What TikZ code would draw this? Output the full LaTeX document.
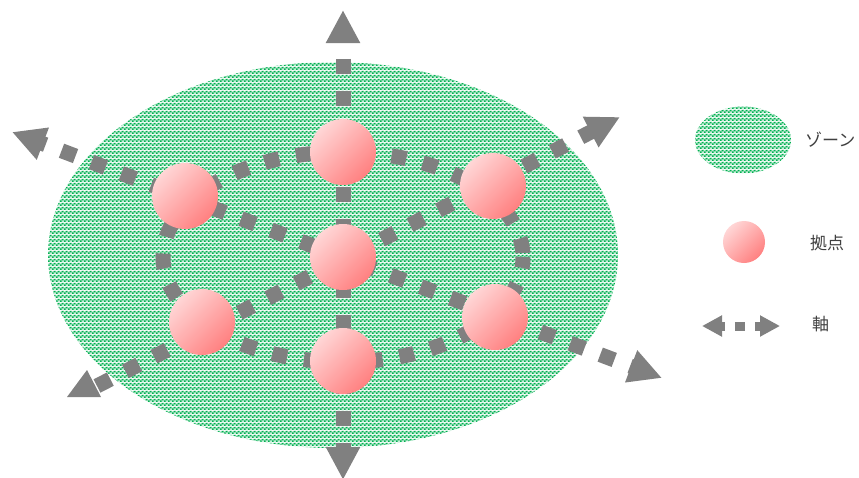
\documentclass[tikz,border=0pt]{standalone}
\usepackage{fontspec}
\newfontfamily\jpfont{Noto Sans CJK JP}
\usetikzlibrary{arrows.meta,patterns.meta}

\definecolor{axisgray}{RGB}{128,128,128}
\definecolor{zonegreen}{RGB}{0,176,80}
\definecolor{hublight}{RGB}{255,214,214}
\definecolor{hubdark}{RGB}{255,128,128}
\definecolor{labelgray}{RGB}{64,64,64}

% fine green checkerboard used for the zone
\tikzdeclarepattern{
  name=zonecheck, type=colored,
  bottom left={(0pt,0pt)}, top right={(4pt,4pt)}, tile size={(4pt,4pt)},
  code={\fill[zonegreen!22] (0pt,0pt) rectangle (4pt,4pt);
        \fill[zonegreen] (0pt,0pt) rectangle (2pt,2pt);
        \fill[zonegreen] (2pt,2pt) rectangle (4pt,4pt);}
}

\tikzset{
  zone/.style={pattern=zonecheck},
  hub/.style={circle, inner sep=0pt, minimum size=#1, draw=none,
              top color=hublight, bottom color=hubdark, shading angle=45},
  hub/.default=66pt,
  axisline/.style={draw=axisgray, line width=15pt, dash pattern=on 15pt off 17pt},
  bighead/.tip={Triangle[length=33pt, width=32pt]},
  smallhead/.tip={Triangle[length=20pt, width=20pt]},
  legendtext/.style={font=\jpfont\fontsize{17}{20}\selectfont, text=labelgray, inner sep=0pt}
}

\begin{document}
\begin{tikzpicture}[x=1pt, y=-1pt]
  \useasboundingbox (0,0) rectangle (859,477);

  % zone
  \fill[zone] (333,255) ellipse [x radius=285, y radius=193];

  % hub positions
  \coordinate (pC)  at (343,257);
  \coordinate (pT)  at (343,152);
  \coordinate (pB)  at (343,361);
  \coordinate (pUL) at (185,196);
  \coordinate (pUR) at (493,186);
  \coordinate (pLL) at (202,322);
  \coordinate (pLR) at (495,317);

  % free ends of the axes
  \coordinate (axN)  at (343,10);
  \coordinate (axS)  at (343,480);
  \coordinate (axNW) at (12,132);
  \coordinate (axSE) at (662,378);
  \coordinate (axSW) at (97,386);
  \coordinate (axNE) at (620,117);

  % ring of axes linking the outer hubs
  \draw[axisline, dash phase=4pt] (pC) ellipse [x radius=180, y radius=105];

  % straight axes through the centre hub
  \draw[axisline, dash phase=14pt, bighead-bighead] (axN) -- (axS);
  \draw[axisline, dash phase=10pt, bighead-bighead] (axNW) -- (axSE);
  \draw[axisline, dash phase=0pt, -bighead] (axSW) -- (axNE);
  \fill[axisgray] (87,370) -- (101,397) -- (67,397) -- cycle;

  % hubs
  \node[hub] (hC)  at (pC)  {};
  \node[hub] (hT)  at (pT)  {};
  \node[hub] (hB)  at (pB)  {};
  \node[hub] (hUL) at (pUL) {};
  \node[hub] (hUR) at (pUR) {};
  \node[hub] (hLL) at (pLL) {};
  \node[hub] (hLR) at (pLR) {};

  % legend
  \fill[zone] (743,140) ellipse [x radius=48, y radius=33.5];
  \node[legendtext, anchor=west] (tZone) at (805,140) {ゾーン};

  \node[hub=42pt] (lgHub) at (744,242) {};
  \node[legendtext, anchor=west] (tHub) at (810,243) {拠点};

  \coordinate (lgA) at (702,326);
  \coordinate (lgB) at (780,326);
  \draw[draw=axisgray, line width=9pt, dash pattern=on 10pt off 10pt, dash phase=6pt,
        smallhead-smallhead] (lgA) -- (lgB);
  \node[legendtext, anchor=west] (tAxis) at (812,324) {軸};
\end{tikzpicture}
\end{document}
